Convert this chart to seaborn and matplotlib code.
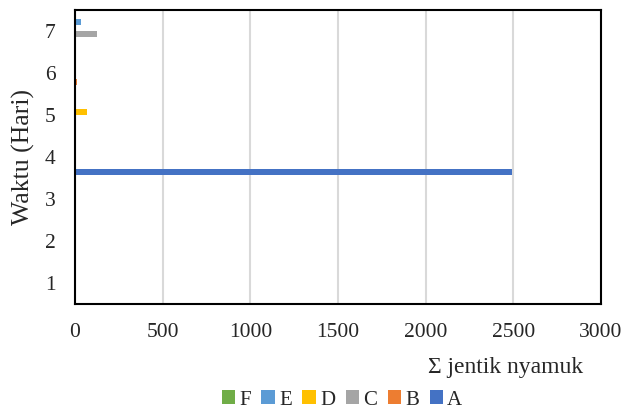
import pandas as pd
import matplotlib
matplotlib.use("Agg")
import matplotlib.pyplot as plt
import seaborn as sns

# Data
days = ["1", "2", "3", "4", "5", "6", "7"]
series_names = ["A", "B", "C", "D", "E", "F"]
values_A = [0, 0, 0, 2490, 0, 0, 0]
values_B = [0, 0, 0, 0, 0, 10, 0]
values_C = [0, 0, 0, 0, 0, 0, 125]
values_D = [0, 0, 0, 0, 68, 0, 0]
values_E = [0, 0, 0, 0, 0, 0, 34]
values_F = [0, 0, 0, 0, 0, 0, 8]
x_ticks = [0, 500, 1000, 1500, 2000, 2500, 3000]

colors = {"A": "#4472C4", "B": "#ED7D31", "C": "#A5A5A5",
          "D": "#FFC000", "E": "#5B9BD5", "F": "#70AD47"}

all_values = [values_A, values_B, values_C, values_D, values_E, values_F]
rows = []
for name, vals in zip(series_names, all_values):
    for d, v in zip(days, vals):
        rows.append({"day": d, "series": name, "count": v})
data = pd.DataFrame(rows)

sns.set_style("white")
plt.rcParams["font.family"] = ["Liberation Serif", "DejaVu Serif"]

fig = plt.figure(figsize=(6.26, 4.12), dpi=100)
ax = fig.add_axes([75 / 626, 108 / 412, 526 / 626, 294 / 412])

# Excel draws the first series at the bottom of each group
hue_order = ["F", "E", "D", "C", "B", "A"]
sns.barplot(data=data, x="count", y="day", hue="series", orient="h",
            order=days[::-1], hue_order=hue_order, palette=colors,
            width=0.86, saturation=1, errorbar=None, ax=ax, linewidth=0)

ax.set_xlim(0, 3000)
ax.set_xticks(x_ticks)
ax.xaxis.grid(True, color="#D9D9D9", linewidth=1.5)
ax.set_axisbelow(True)
for s in ax.spines.values():
    s.set_visible(True)
    s.set_color("black")
    s.set_linewidth(1.5)

ax.tick_params(axis="x", length=0, pad=14, labelsize=15.5)
ax.tick_params(axis="y", length=0, pad=14, labelsize=15.5)

ax.set_ylabel("Waktu (Hari)", fontsize=18.5, va="center")
ax.yaxis.set_label_coords(-(75 - 23) / 526, 0.5)
ax.set_xlabel("Σ jentik nyamuk", fontsize=17, va="center")
ax.xaxis.set_label_coords((506 - 75) / 526, -(368 - 304) / 294)

handles, labels = ax.get_legend_handles_labels()
ax.legend_.remove()
fig.legend(handles, labels, loc="center", bbox_to_anchor=(342 / 626, 12 / 412),
           ncol=6, frameon=False, fontsize=15, handlelength=0.65,
           handleheight=0.65, handletextpad=0.2, columnspacing=0.5,
           borderpad=0.1)

fig.savefig("out.png", dpi=100)
